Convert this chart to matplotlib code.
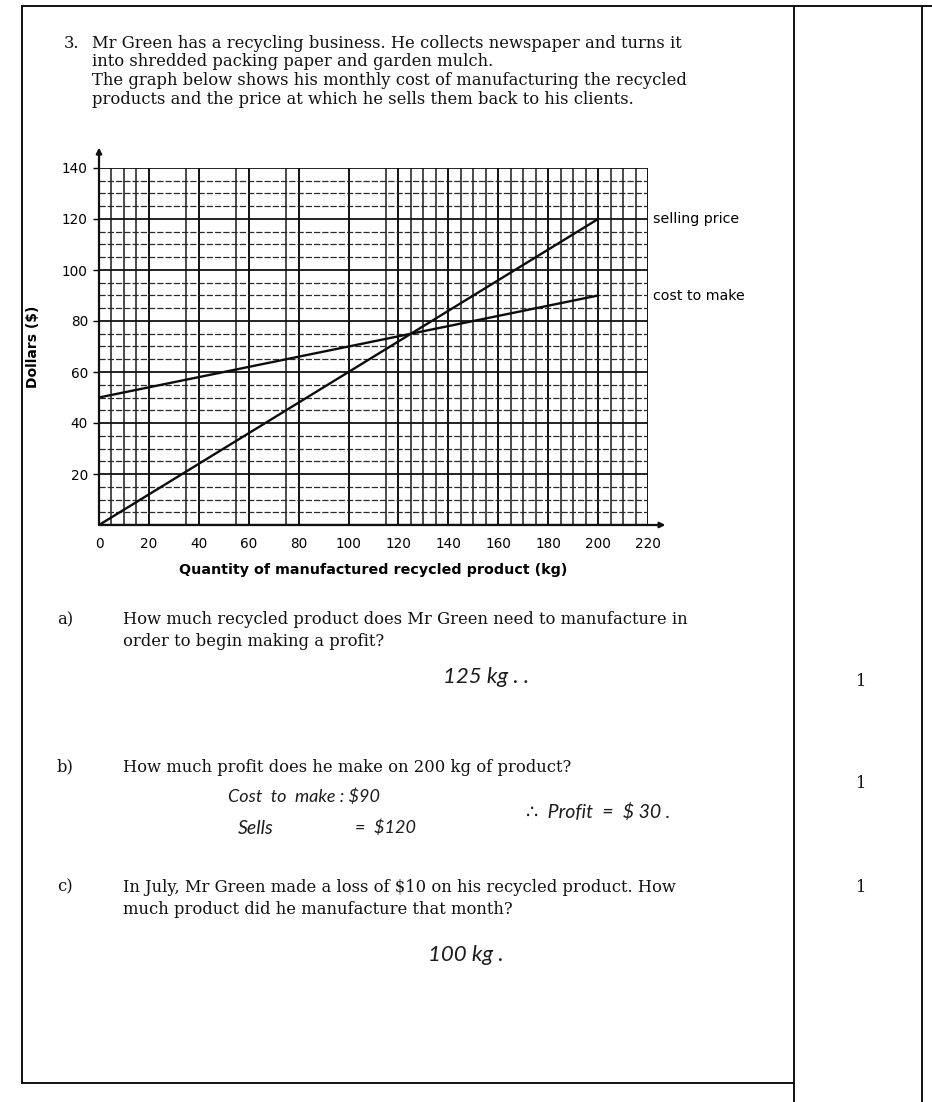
import matplotlib
matplotlib.use("Agg")
import matplotlib.pyplot as plt
from matplotlib.lines import Line2D

W, H = 932, 1102

# monthly figures for the recycled product (kg -> dollars)
quantity = [0, 200]
selling_price = [0, 120]
cost_to_make = [50, 90]

x_ticks = list(range(0, 221, 20))
y_ticks = list(range(20, 141, 20))

question = [
    "Mr Green has a recycling business. He collects newspaper and turns it",
    "into shredded packing paper and garden mulch.",
    "The graph below shows his monthly cost of manufacturing the recycled",
    "products and the price at which he sells them back to his clients.",
]
part_a = ["How much recycled product does Mr Green need to manufacture in",
          "order to begin making a profit?"]
part_b = ["How much profit does he make on 200 kg of product?"]
part_c = ["In July, Mr Green made a loss of $10 on his recycled product. How",
          "much product did he manufacture that month?"]
marks = ["1", "1", "1"]

SERIF = "DejaVu Serif"
SANS = "DejaVu Sans"
HAND = dict(family=["Lato", "DejaVu Sans"], style="italic")
INK = "#111111"


def fx(x):
    return x / W


def fy(y):
    return 1 - y / H


fig = plt.figure(figsize=(W / 100, H / 100), dpi=100)
fig.patch.set_facecolor("white")


def put(x, y, s, **kw):
    kw.setdefault("family", SERIF)
    kw.setdefault("fontsize", 11.8)
    kw.setdefault("va", "center")
    kw.setdefault("color", INK)
    fig.text(fx(x), fy(y), s, **kw)


def hand(x, y, s, size=14):
    put(x, y, s, fontsize=size, color="#1c1c1c", **HAND)


def rule(x0, y0, x1, y1, lw=1.3):
    fig.add_artist(Line2D([fx(x0), fx(x1)], [fy(y0), fy(y1)],
                          transform=fig.transFigure, color=INK, lw=lw))


# page frame and marks column
rule(22, 6, W, 6, 1.4)
rule(22, 6, 22, 1083, 1.4)
rule(22, 1083, 794, 1083, 1.4)
rule(794, 6, 794, H, 1.4)
rule(922, 6, 922, H, 1.4)

# question stem
put(64, 43, "3.")
for i, line in enumerate(question):
    put(92, 43 + i * 18.8, line)

# graph
x0, x1 = 99, 648
y0, y1 = 525, 168
ax = fig.add_axes([fx(x0), fy(y0), (x1 - x0) / W, (y0 - y1) / H])
ax.set_xlim(0, 220)
ax.set_ylim(0, 140)
for s in ax.spines.values():
    s.set_visible(False)

minor_v = [5, 10, 15, 35, 55, 75, 115] + list(range(125, 220, 5))
for v in minor_v:
    if v % 20:
        ax.axvline(v, color="#1a1a1a", lw=1.1)
for v in x_ticks:
    ax.axvline(v, color=INK, lw=1.4)
for h in range(5, 140, 5):
    if h % 20:
        ax.axhline(h, color="#2a2a2a", lw=0.9, ls=(0, (5, 1.6)))
for h in y_ticks:
    ax.axhline(h, color=INK, lw=1.3)
ax.axhline(0, color=INK, lw=1.6)

ax.plot(quantity, selling_price, color="#0d0d0d", lw=1.7, solid_capstyle="round")
ax.plot(quantity, cost_to_make, color="#0d0d0d", lw=1.7, solid_capstyle="round")

# axis arrows
for tip in [(0, 148), (227, 0)]:
    ax.annotate("", xy=tip, xytext=(0, 0), annotation_clip=False,
                arrowprops=dict(arrowstyle="-|>", color=INK, lw=1.6,
                                mutation_scale=8, shrinkA=0, shrinkB=0))

ax.set_xticks(x_ticks)
ax.set_yticks(y_ticks)
ax.tick_params(axis="y", length=4, width=1, pad=4, labelsize=9.8)
ax.tick_params(axis="x", length=0, pad=9, labelsize=9.8)
for lab in ax.get_xticklabels() + ax.get_yticklabels():
    lab.set_family(SANS)
ax.set_xlabel("Quantity of manufactured recycled product (kg)", family=SANS,
              fontsize=10.3, fontweight="bold", labelpad=8)
ax.set_ylabel("Dollars ($)", family=SANS, fontsize=10, fontweight="bold",
              labelpad=16)

ax.text(222, selling_price[-1], "selling price", family=SANS, fontsize=10.2,
        va="center", clip_on=False)
ax.text(222, cost_to_make[-1], "cost to make", family=SANS, fontsize=10.2,
        va="center", clip_on=False)

# part a
put(57, 620, "a)")
for i, line in enumerate(part_a):
    put(123, 620 + i * 22, line)
hand(443, 677, "125 kg . .", 16)
put(860, 682, marks[0], ha="center")

# part b
put(57, 767, "b)")
put(123, 767, part_b[0])
hand(228, 797, "Cost  to  make : $90", 13)
hand(238, 828, "Sells", 14)
hand(355, 828, "=  $120", 13)
hand(526, 812, "\u2234  Profit  =  $ 30 .", 14)
put(860, 783, marks[1], ha="center")

# part c
put(57, 887, "c)")
for i, line in enumerate(part_c):
    put(123, 887 + i * 22, line)
hand(428, 955, "100 kg .", 16)
put(860, 887, marks[2], ha="center")

fig.savefig("out.png", dpi=100, facecolor="white")
